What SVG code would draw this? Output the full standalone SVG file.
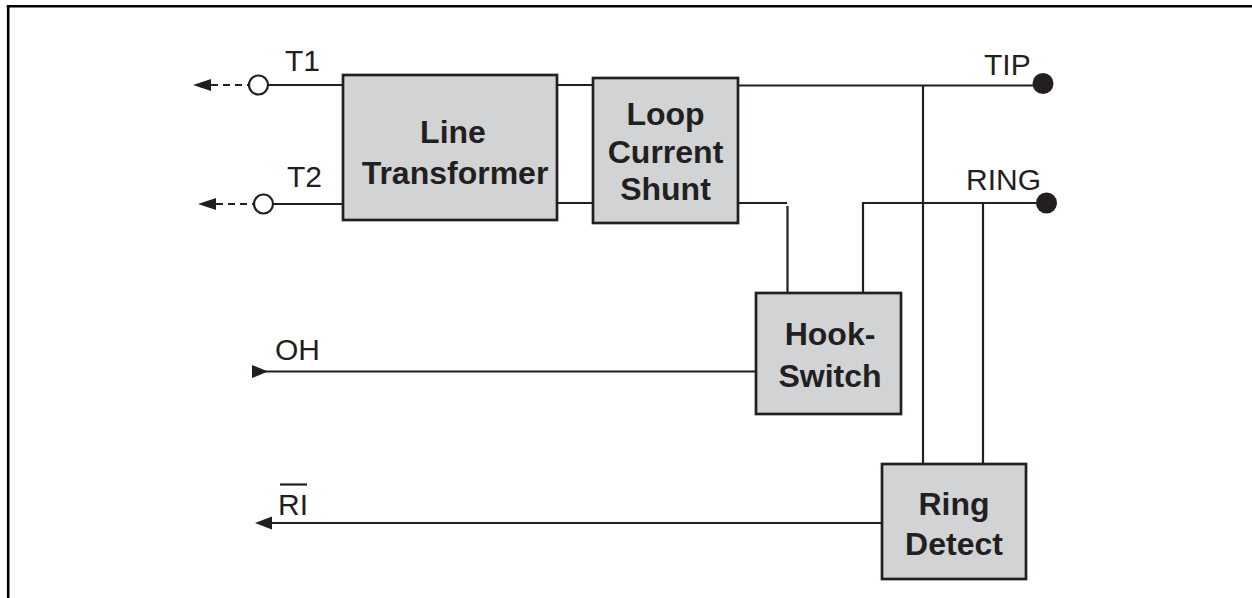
<svg xmlns="http://www.w3.org/2000/svg" width="1252" height="598" viewBox="0 0 1252 598">
<style>
.box{fill:#d1d3d4;stroke:#231f20;stroke-width:2.7}
.w{fill:none;stroke:#231f20;stroke-width:2.2}
.lbl{font-family:"Liberation Sans",Arial,sans-serif;font-size:32px;font-weight:bold;fill:#231f20;text-anchor:middle}
.t{font-family:"Liberation Sans",Arial,sans-serif;font-size:30px;fill:#231f20}
.ah{fill:#231f20}
</style>
<rect width="1252" height="598" fill="#fff"/>
<g id="frame" fill="none" stroke="#000" stroke-width="2.6">
<line x1="6.7" y1="6.2" x2="1252" y2="6.2"/>
<line x1="8.2" y1="5" x2="8.2" y2="598"/>
</g>
<g id="connectors">
<line class="w" x1="211" y1="85" x2="249" y2="85" stroke-dasharray="7 5"/>
<polygon class="ah" points="193,85 211,79 211,91"/>
<line class="w" x1="268" y1="85" x2="343" y2="85"/>
<circle cx="258.5" cy="85" r="9.5" fill="#fff" stroke="#231f20" stroke-width="2.2"/>
<line class="w" x1="216" y1="204" x2="254" y2="204" stroke-dasharray="7 5"/>
<polygon class="ah" points="198,204 216,198 216,210"/>
<line class="w" x1="273" y1="204" x2="343" y2="204"/>
<circle cx="263.5" cy="204" r="9.5" fill="#fff" stroke="#231f20" stroke-width="2.2"/>
<line class="w" x1="557" y1="85" x2="593" y2="85"/>
<line class="w" x1="557" y1="203" x2="593" y2="203"/>
<line class="w" x1="738" y1="85.5" x2="1040" y2="85.5"/>
<circle cx="1043" cy="83.5" r="10.5" fill="#231f20"/>
<line class="w" x1="923" y1="85.5" x2="923" y2="464"/>
<line class="w" x1="738" y1="203" x2="787" y2="203"/>
<line class="w" x1="787.5" y1="206" x2="787.5" y2="293"/>
<polyline class="w" points="863,293 863,203 1045,203"/>
<circle cx="1046.5" cy="203" r="10.5" fill="#231f20"/>
<line class="w" x1="983" y1="203" x2="983" y2="464"/>
<line class="w" x1="262" y1="371.5" x2="756" y2="371.5"/>
<polygon class="ah" points="268,371.5 252,365 252,378"/>
<line class="w" x1="265" y1="523" x2="882" y2="523"/>
<polygon class="ah" points="255,523 272,516.5 272,529.5"/>
</g>
<g id="line-transformer">
<rect class="box" x="343" y="75" width="214" height="145"/>
<text class="lbl" x="453" y="143">Line</text>
<text class="lbl" x="455" y="184">Transformer</text>
</g>
<g id="loop-current-shunt">
<rect class="box" x="593" y="78" width="145" height="145"/>
<text class="lbl" x="665.5" y="125">Loop</text>
<text class="lbl" x="665.5" y="163">Current</text>
<text class="lbl" x="665.5" y="200">Shunt</text>
</g>
<g id="hook-switch">
<rect class="box" x="756" y="293" width="145" height="121"/>
<text class="lbl" x="830" y="345">Hook-</text>
<text class="lbl" x="830" y="387">Switch</text>
</g>
<g id="ring-detect">
<rect class="box" x="882" y="464" width="144" height="115"/>
<text class="lbl" x="954" y="515">Ring</text>
<text class="lbl" x="954" y="555">Detect</text>
</g>
<g id="labels">
<text class="t" x="285" y="71">T1</text>
<text class="t" x="287" y="187">T2</text>
<text class="t" x="984" y="75">TIP</text>
<text class="t" x="966" y="190">RING</text>
<text class="t" x="275" y="360">OH</text>
<text class="t" x="278" y="515">RI</text>
<line x1="280" y1="484.5" x2="307" y2="484.5" stroke="#231f20" stroke-width="2.2"/>
</g>
</svg>
